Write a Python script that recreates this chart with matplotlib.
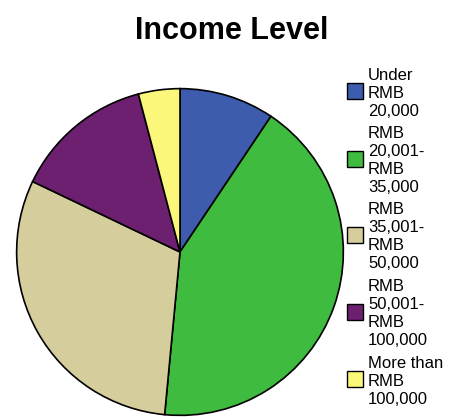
import matplotlib
matplotlib.use("Agg")
from matplotlib import pyplot as plt
from matplotlib.patches import Rectangle

plt.rcParams['font.family'] = ['Liberation Sans', 'DejaVu Sans']

# income groups, share of respondents (%)
categories = ["Under\nRMB\n20,000",
              "RMB\n20,001-\nRMB\n35,000",
              "RMB\n35,001-\nRMB\n50,000",
              "RMB\n50,001-\nRMB\n100,000",
              "More than\nRMB\n100,000"]
shares = [9.4, 42.1, 30.6, 13.8, 4.1]
colours = ["#3e5cae", "#3fbb3f", "#d5cd9c", "#6d206f", "#fbf77a"]

W, H = 453, 418
fig = plt.figure(figsize=(W/100, H/100), dpi=100)

# pie centre at (180, 252) px, radius 165 px
cx, cy, r = 180, 252, 165
ax = fig.add_axes([(cx-r)/W, (H-cy-r)/H, 2*r/W, 2*r/H])
ax.pie(shares, colors=colours, startangle=90, counterclock=False,
       wedgeprops=dict(edgecolor='black', linewidth=1.2))
ax.set_xlim(-1.01, 1.01)
ax.set_ylim(-1.01, 1.01)
ax.axis('off')

fig.text(232/W, 1-31/H, "Income Level", ha='center', va='center',
         fontsize=22, fontweight='bold')

# hand-made legend: one line of text per row, square beside each entry
pitch, gap = 18.0, 4.5
y = 75.0
box = 16
for label, c in zip(categories, colours):
    lines = label.split("\n")
    ys = []
    for line in lines:
        fig.text(368/W, 1-y/H, line, ha='left', va='center', fontsize=12)
        ys.append(y)
        y += pitch
    y += gap
    yc = sum(ys)/len(ys) - 2
    fig.add_artist(Rectangle((347/W, 1-(yc+box/2)/H), box/W, box/H,
                             transform=fig.transFigure, facecolor=c,
                             edgecolor='black', linewidth=1.0))

plt.savefig("out.png", dpi=100)
